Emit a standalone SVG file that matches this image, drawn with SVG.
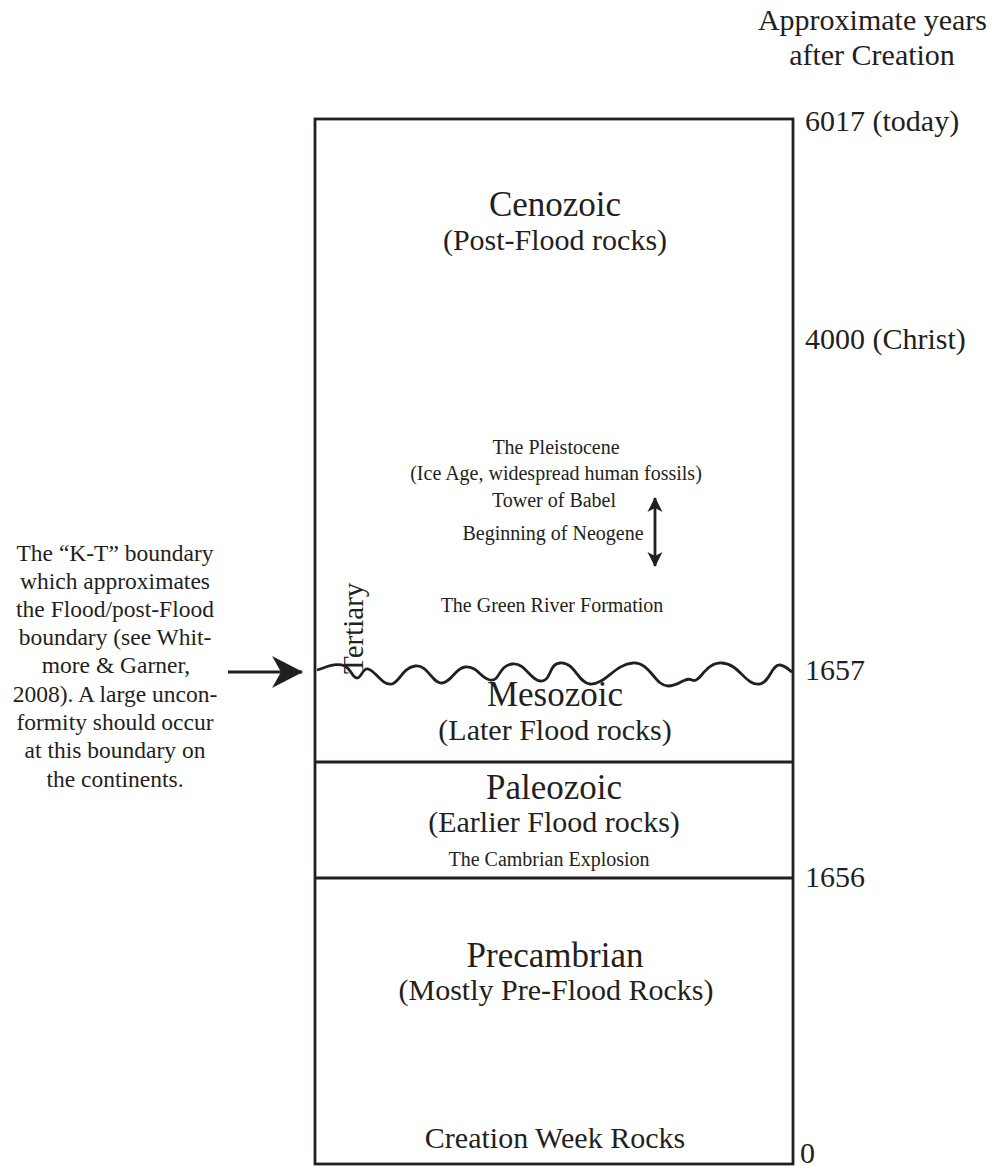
<svg xmlns="http://www.w3.org/2000/svg" width="992" height="1171" viewBox="0 0 992 1171">
<style>
text{font-family:"Liberation Serif","Times New Roman",serif;fill:#231f20}
.big{font-size:35px;text-anchor:middle}
.mid{font-size:30px;text-anchor:middle}
.sm{font-size:20px;text-anchor:middle}
.yr{font-size:30px}
.note{font-size:23.5px;text-anchor:middle}
.ln{stroke:#231f20;stroke-width:2.8;fill:none}
</style>
<defs>
<marker id="ah" markerWidth="16" markerHeight="16" refX="14" refY="8" orient="auto-start-reverse" markerUnits="userSpaceOnUse">
<path d="M0,0.5 L15,8 L0,15.5 L4,8 Z" fill="#231f20"/>
</marker>
<marker id="bigah" markerWidth="32" markerHeight="34" refX="30" refY="17" orient="auto" markerUnits="userSpaceOnUse">
<path d="M0,1 L31,17 L0,33 L9,17 Z" fill="#231f20"/>
</marker>
</defs>
<g id="column">
<rect class="ln" x="315" y="119" width="478" height="1045"/>
<line class="ln" x1="315" y1="762" x2="793" y2="762"/>
<line class="ln" x1="315" y1="878" x2="793" y2="878"/>
<path class="ln" d="M317,670 C325,668 335,662 345,666 C352,670 352,678 357,678 C362,678 362,668 368,669 C376,671 382,686 392,684 C400,682 402,668 415,666 C428,664 432,684 442,683 C452,682 455,668 465,667 C478,666 480,678 490,680 C500,682 498,666 512,664 C525,662 530,680 540,681 C552,682 548,664 560,663 C575,662 578,683 590,684 C605,685 615,664 633,663 C650,662 655,686 668,686 C680,686 685,676 692,680 C700,684 705,662 722,663 C740,664 745,686 760,684 C770,682 772,664 780,665 C786,666 789,670 792,672"/>
</g>
<g id="axis-labels">
<text class="yr" x="987" y="30" text-anchor="end">Approximate years</text>
<text class="yr" x="872" y="65" text-anchor="middle">after Creation</text>
<text class="yr" x="805" y="131">6017 (today)</text>
<text class="yr" x="805" y="349">4000 (Christ)</text>
<text class="yr" x="805" y="680">1657</text>
<text class="yr" x="805" y="887">1656</text>
<text class="yr" x="800" y="1163">0</text>
</g>
<g id="cenozoic">
<text class="big" x="555" y="216">Cenozoic</text>
<text class="mid" x="555" y="250">(Post-Flood rocks)</text>
<text class="sm" x="556" y="454">The Pleistocene</text>
<text class="sm" x="556" y="480">(Ice Age, widespread human fossils)</text>
<text class="sm" x="554" y="507">Tower of Babel</text>
<text class="sm" x="553" y="540">Beginning of Neogene</text>
<text class="sm" x="552" y="612">The Green River Formation</text>
<text x="0" y="0" font-size="29" transform="translate(363,674) rotate(-90)">Tertiary</text>
</g>
<g id="mesozoic">
<text class="big" x="555" y="706">Mesozoic</text>
<text class="mid" x="555" y="740">(Later Flood rocks)</text>
</g>
<g id="paleozoic">
<text class="big" x="554" y="799">Paleozoic</text>
<text class="mid" x="554" y="832">(Earlier Flood rocks)</text>
<text class="sm" x="549" y="866" font-size="19.5">The Cambrian Explosion</text>
</g>
<g id="precambrian">
<text class="big" x="555" y="967">Precambrian</text>
<text class="mid" x="556" y="1000">(Mostly Pre-Flood Rocks)</text>
<text class="mid" x="555" y="1148">Creation Week Rocks</text>
</g>
<g id="note" xml:space="preserve">
<text class="note" x="115" y="561">The “K-T” boundary</text>
<text class="note" x="115" y="589">which  approximates</text>
<text class="note" x="115" y="617">the Flood/post-Flood</text>
<text class="note" x="115" y="645">boundary (see Whit-</text>
<text class="note" x="116" y="673">more &amp; Garner,</text>
<text class="note" x="115" y="702">2008).  A large uncon-</text>
<text class="note" x="115" y="730">formity should occur</text>
<text class="note" x="115" y="758">at this boundary on</text>
<text class="note" x="115" y="787">the continents.</text>
</g>
<g id="connectors">
<line class="ln" x1="655" y1="498" x2="655" y2="566" marker-start="url(#ah)" marker-end="url(#ah)"/>
<line class="ln" x1="228" y1="672" x2="302" y2="672" stroke-width="3.2" marker-end="url(#bigah)"/>
</g>
</svg>
